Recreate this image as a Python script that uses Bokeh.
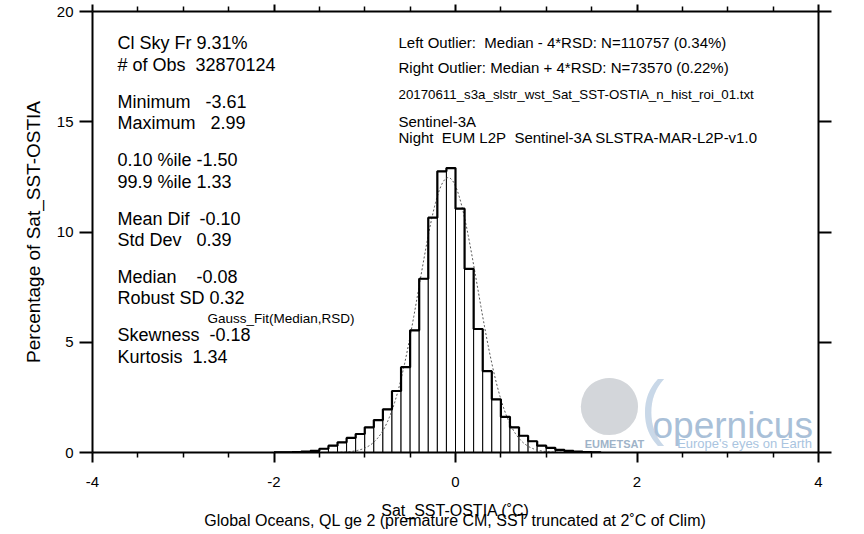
import numpy as np
from bokeh.plotting import figure
from bokeh.models import LinearAxis, FixedTicker, Label, Range1d, CustomLabelingPolicy
from bokeh.embed import file_html
from bokeh.resources import INLINE

# ---------------- data ----------------
bin_left = [-2.0, -1.9, -1.8, -1.7, -1.6, -1.5, -1.4, -1.3, -1.2, -1.1,
            -1.0, -0.9, -0.8, -0.7, -0.6, -0.5, -0.4, -0.3, -0.2, -0.1,
            0.0, 0.1, 0.2, 0.3, 0.4, 0.5, 0.6, 0.7, 0.8, 0.9,
            1.0, 1.1, 1.2, 1.3, 1.4, 1.5]
pct = [0.01, 0.01, 0.02, 0.04, 0.07, 0.17, 0.31, 0.46, 0.66, 0.84,
       1.14, 1.47, 1.96, 2.79, 3.87, 5.54, 7.88, 10.65, 12.75, 12.90,
       11.06, 8.33, 5.60, 3.69, 2.41, 1.62, 1.14, 0.76, 0.51, 0.31,
       0.21, 0.12, 0.07, 0.04, 0.02, 0.01]
BIN_WIDTH = 0.1
MEDIAN = -0.08
RSD = 0.32

x_ticks = [-4, -2, 0, 2, 4]
x_tick_labels = {-4: "-4", -2: "-2", 0: "0", 2: "2", 4: "4"}
x_minor = [-3.5, -3.0, -2.5, -1.5, -1.0, -0.5, 0.5, 1.0, 1.5, 2.5, 3.0, 3.5]
y_ticks = [0, 5, 10, 15, 20]

stats_lines = ["Cl Sky Fr 9.31%", "# of Obs\u00a0 32870124",
               "Minimum \u00a0 -3.61", "Maximum \u00a0 2.99",
               "0.10 %ile -1.50", "99.9 %ile 1.33",
               "Mean Dif\u00a0 -0.10", "Std Dev \u00a0 0.39",
               "Median \u00a0\u00a0 -0.08", "Robust SD 0.32",
               "Skewness\u00a0 -0.18", "Kurtosis\u00a0 1.34"]
gauss_label = "Gauss_Fit(Median,RSD)"
info_lines = ["Left Outlier:\u00a0 Median - 4*RSD: N=110757 (0.34%)",
              "Right Outlier: Median + 4*RSD: N=73570 (0.22%)",
              "20170611_s3a_slstr_wst_Sat_SST-OSTIA_n_hist_roi_01.txt",
              "Sentinel-3A",
              "Night\u00a0 EUM L2P\u00a0 Sentinel-3A SLSTRA-MAR-L2P-v1.0"]
x_title = "Sat_SST-OSTIA (\u02daC)"
x_subtitle = "Global Oceans, QL ge 2 (premature CM, SST truncated at 2\u02daC of Clim)"
y_title = "Percentage of Sat_SST-OSTIA"

FONT = "Liberation Sans"

# ---------------- figure ----------------
FL, FB = 92, 452   # frame left / bottom in canvas px
p = figure(width=864, height=534, x_range=Range1d(-4, 4), y_range=Range1d(0, 20),
           output_backend="svg", toolbar_location=None,
           min_border_left=FL, min_border_right=46, min_border_top=7,
           min_border_bottom=82)
p.grid.visible = False
p.outline_line_color = None
p.background_fill_color = "white"
p.border_fill_color = "white"

HIDE_ALL = CustomLabelingPolicy(code="""
const all = [];
for (const i of indices) all.push(i);
for (const i of all) indices.unset(i);
return indices;
""")

def style_axis(ax, ticks, minor, tick_out, minor_out, labels=True, standoff=6):
    ax.ticker = FixedTicker(ticks=ticks, minor_ticks=minor)
    ax.axis_line_width = 2
    ax.axis_line_color = "black"
    ax.major_tick_line_width = 2
    ax.major_tick_line_color = "black"
    ax.minor_tick_line_width = 1.5
    ax.minor_tick_line_color = "black"
    ax.major_tick_in = 0
    ax.major_tick_out = tick_out
    ax.minor_tick_in = 0
    ax.minor_tick_out = minor_out
    ax.major_label_text_font = FONT
    ax.major_label_text_color = "black"
    if labels:
        ax.major_label_text_font_size = "15px"
        ax.major_label_standoff = standoff
    else:
        ax.major_label_policy = HIDE_ALL
        ax.major_label_text_font_size = "1px"
        ax.major_label_standoff = 0

xa = p.xaxis[0]
style_axis(xa, x_ticks, x_minor, 10, 5, True, 14)
xa.major_label_overrides = x_tick_labels
xa.axis_label = x_title + "\n" + x_subtitle
xa.axis_label_text_font = FONT
xa.axis_label_text_font_size = "16px"
xa.axis_label_text_font_style = "normal"
xa.axis_label_text_color = "black"
xa.axis_label_text_line_height = 0.6
xa.axis_label_standoff = 12

ya = p.yaxis[0]
style_axis(ya, y_ticks, [], 13, 0, True, 6)
ya.axis_label = y_title
ya.axis_label_text_font = FONT
ya.axis_label_text_font_size = "19px"
ya.axis_label_text_font_style = "normal"
ya.axis_label_text_color = "black"
ya.axis_label_standoff = 10

top = LinearAxis()
style_axis(top, x_ticks, x_minor, 7, 5, False)
p.add_layout(top, "above")
right = LinearAxis()
style_axis(right, y_ticks, [], 13, 0, False)
p.add_layout(right, "right")

# ---------------- histogram ----------------
bin_right = [round(b + BIN_WIDTH, 2) for b in bin_left]
p.quad(left=bin_left, right=bin_right, bottom=0, top=pct,
       fill_color="white", line_color="black", line_width=1)

xg = np.linspace(-4, 4, 801)
yg = 100 * BIN_WIDTH / (RSD * np.sqrt(2 * np.pi)) * np.exp(-0.5 * ((xg - MEDIAN) / RSD) ** 2)
p.line(xg, yg, line_color="#555555", line_width=1, line_dash="2 2")

step_x = bin_left + [bin_right[-1]]
step_y = pct + [0]
p.step(step_x, step_y, mode="after", line_color="black", line_width=2.2)

# ---------------- texts ----------------
def txt(s, cx, cy, size, color="black", align="left", style="normal", baseline="middle"):
    p.add_layout(Label(x=cx - FL, y=FB - cy, x_units="screen", y_units="screen",
                       text=s, text_font=FONT, text_font_size=f"{size}px",
                       text_color=color, text_align=align, text_baseline=baseline,
                       text_font_style=style))

stats_y = [42.5, 64, 101, 122, 159, 181, 218, 239, 276, 297, 334, 356]
for s, cy in zip(stats_lines, stats_y):
    txt(s, 117, cy, 18)
txt(gauss_label, 207, 318, 13.5)

info_y = [42, 67, 94, 121, 137]
info_sz = [15, 15, 13.3, 15, 15]
for s, cy, sz in zip(info_lines, info_y, info_sz):
    txt(s, 398, cy, sz)

# logo watermark (EUMETSAT / Copernicus)
txt("\u25cf", 609, 397, 133, color="#d3d6da", align="center")
txt("(", 640, 405, 72, color="#c9d8e8")
txt("opernicus", 652, 425, 37, color="#a9c0d8", baseline="alphabetic")
txt("EUMETSAT", 614, 443, 11, color="#9fb3c8", align="center", style="bold")
txt("Europe's eyes on Earth", 744, 443, 13, color="#a9c4e0", align="center")

open("out.html", "w").write(file_html(p, INLINE))
